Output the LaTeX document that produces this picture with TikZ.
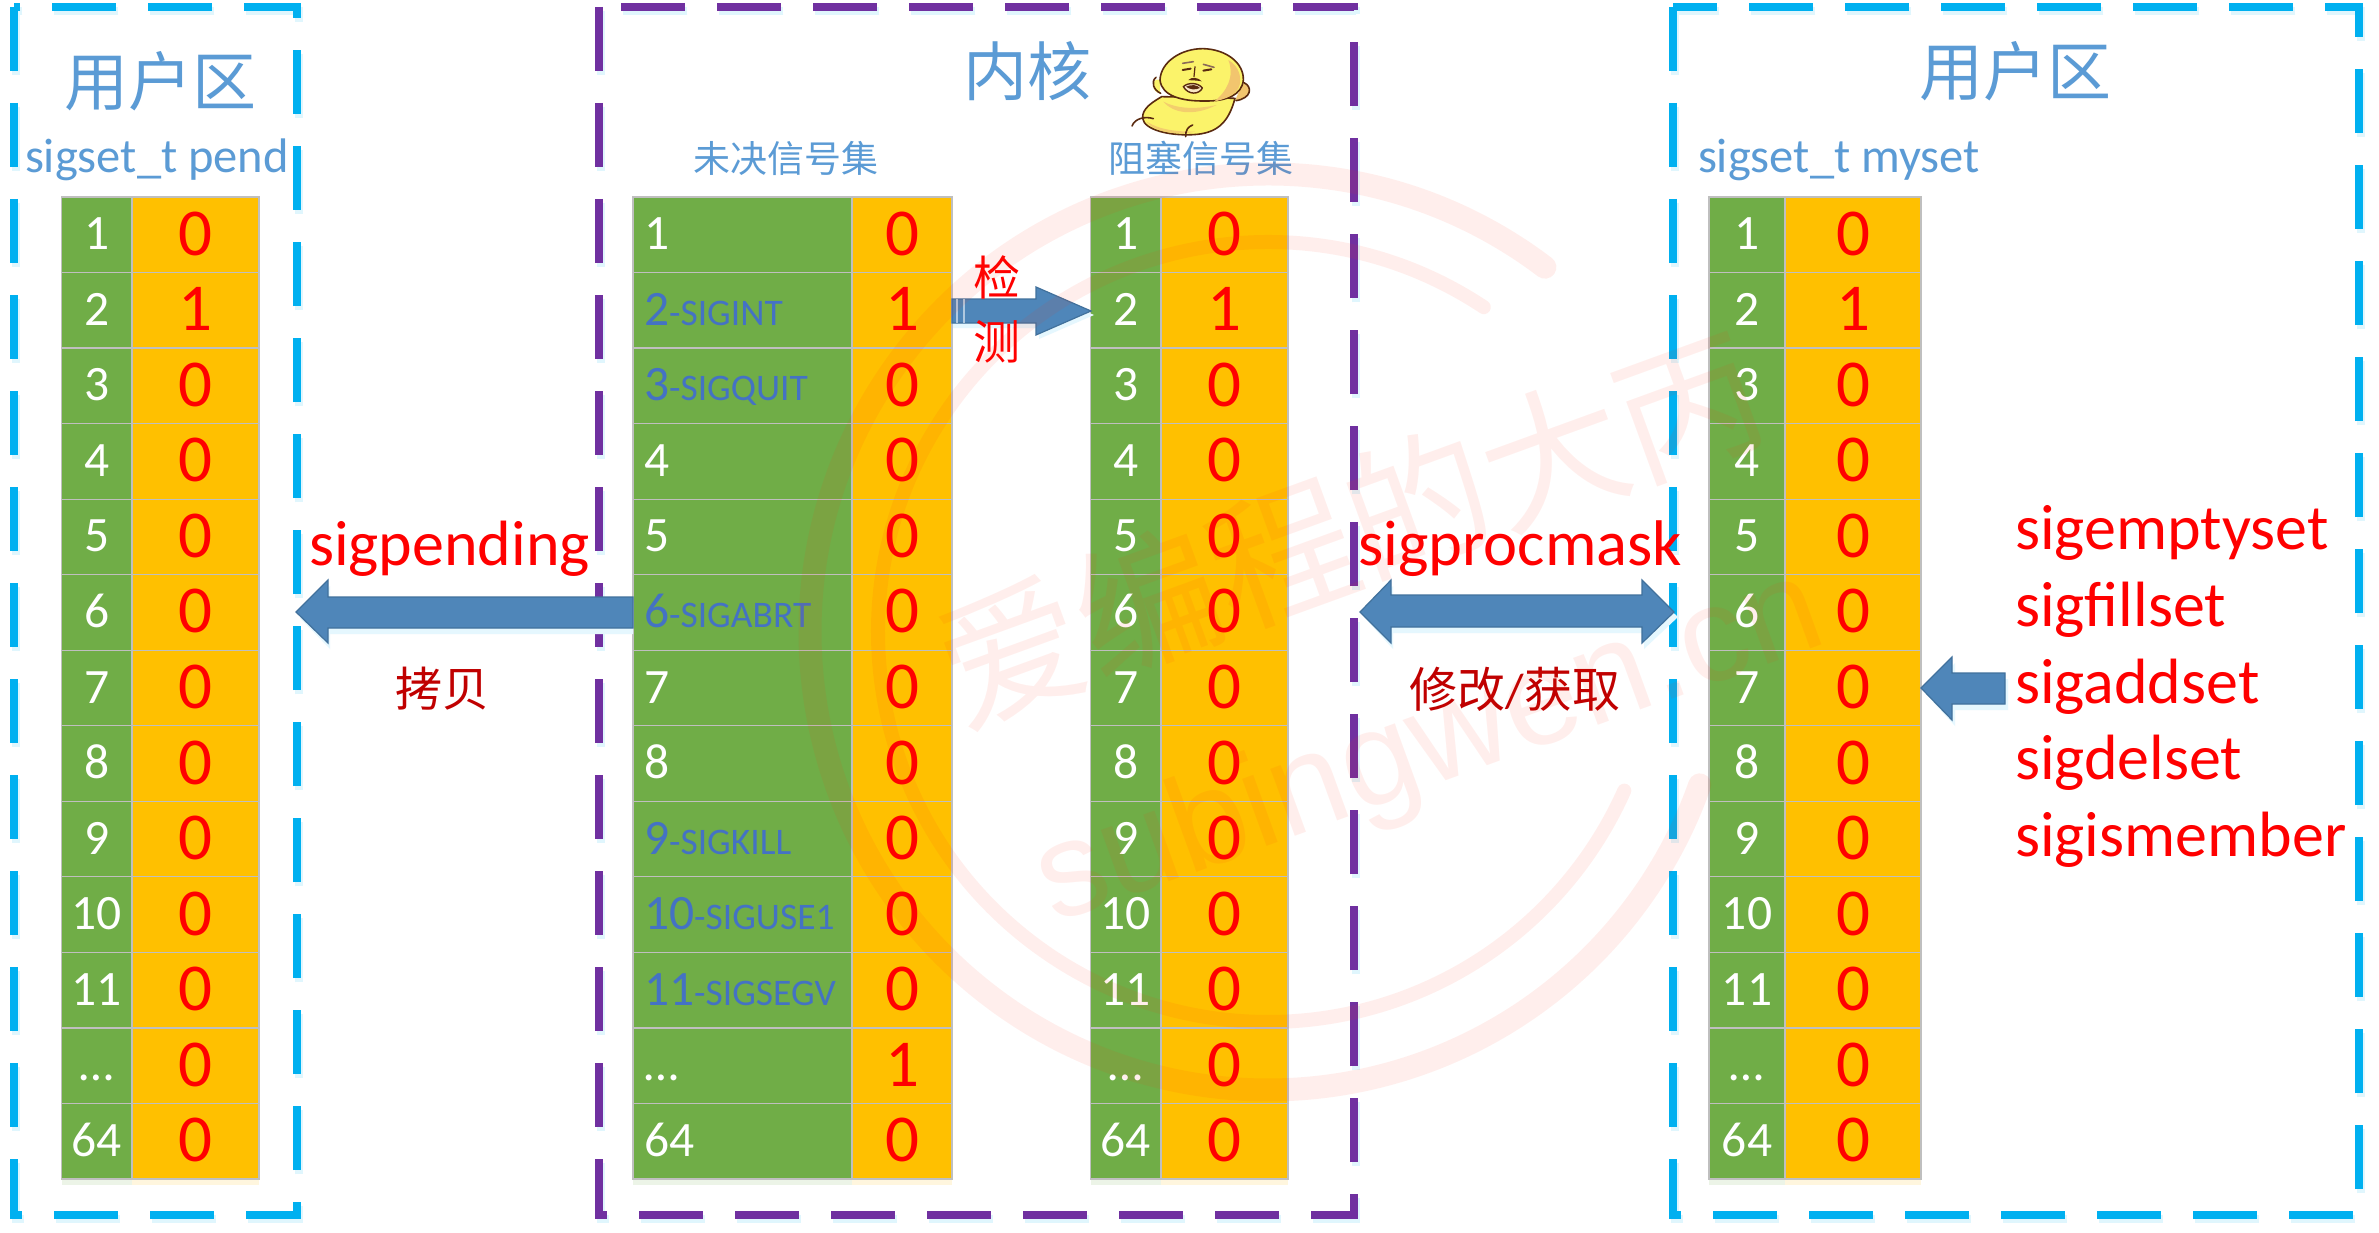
\documentclass[tikz,border=0pt]{standalone}
\usepackage{fontspec}
\setmainfont{Carlito}
\newfontfamily\cjk{Noto Sans CJK SC}
\newfontfamily\wmfont{Liberation Sans}
\usetikzlibrary{calc}
\definecolor{cellgreen}{HTML}{70AD47}
\definecolor{cellorange}{HTML}{FFC000}
\definecolor{cellline}{HTML}{BFBFBF}
\definecolor{titleblue}{HTML}{5B9BD5}
\definecolor{sigblue}{HTML}{4472C4}
\definecolor{boxblue}{HTML}{00B0F0}
\definecolor{boxpurple}{HTML}{7030A0}
\definecolor{arrowfill}{HTML}{4F86B9}
\definecolor{arrowline}{HTML}{41719C}
\definecolor{darkred}{HTML}{C00000}
\definecolor{wmred}{HTML}{FF3010}
\definecolor{faceyellow}{HTML}{FBF36A}
\definecolor{faceshade}{HTML}{F2C56E}
\definecolor{faceline}{HTML}{5A2A10}
\newcommand\fs[1]{\fontsize{#1}{#1}\selectfont}
\tikzset{
  cellbox/.style={draw=cellline,line width=1.2pt,inner sep=0pt,outer sep=0pt,minimum height=75.54pt,anchor=north west},
  txt/.style={inner sep=0pt,outer sep=0pt},
  numlabel/.style={txt,anchor=base,text=white,font=\fs{49.5}},
  vallabel/.style={txt,anchor=base,text=red,font=\fs{67}},
  dashbox/.style={line width=8pt,dash pattern=on 64pt off 32pt,line cap=butt,miter limit=10},
  dashshadow/.style={line width=8pt,dash pattern=on 64pt off 32pt,draw=boxblue!12,line cap=butt},
  blockarrow/.style={fill=arrowfill,draw=arrowline,line width=1.2pt,line join=miter},
  arrowshadow/.style={fill=boxblue!10,draw=none},
  wmring/.style={draw=wmred,opacity=.08,line cap=round},
  wmtext/.style={txt,text=wmred,text opacity=.08,rotate=20},
  facestroke/.style={draw=faceline,line width=1.5pt,line cap=round,line join=round}
}
% #1 name, #2 x0, #3 split, #4 x1
\newcommand\sigtable[4]{%
  \pgfmathsetmacro\wa{#3-#2}\pgfmathsetmacro\wb{#4-#3}\pgfmathsetmacro\cxa{(#3+#2)/2}\pgfmathsetmacro\cxb{(#3+#4)/2}%
  \fill[cellgreen!25,opacity=.5] (#2,1179) rectangle (#3,1185);
  \fill[cellorange!25,opacity=.5] (#3,1179) rectangle (#4,1185);
  \foreach \lab/\val [count=\r] in {1/0,2/1,3/0,4/0,5/0,6/0,7/0,8/0,9/0,10/0,11/0,…/0,64/0}{%
    \pgfmathsetmacro\yy{197+75.54*(\r-1)}\pgfmathsetmacro\yb{\yy+37.77+15}\pgfmathsetmacro\yc{\yy+37.77+20.5}%
    \node[cellbox,fill=cellgreen,minimum width=\wa pt] (#1n\r) at (#2,\yy) {};
    \node[cellbox,fill=cellorange,minimum width=\wb pt] (#1v\r) at (#3,\yy) {};
    \node[numlabel] (#1nt\r) at (\cxa,\yb) {\lab};
    \node[vallabel] (#1vt\r) at (\cxb,\yc) {\val};
  }%
}
\newcommand\dashrect[3]{%
  \draw[dashshadow] (#1+2,11) -- (#1+2,1219) -- (#2+2,1219) -- (#2+2,11) -- cycle;
  \draw[dashbox,draw=#3] (#1,7) -- (#1,1215) -- (#2,1215) -- (#2,7) -- cycle;
}
\begin{document}
\begin{tikzpicture}[x=1pt,y=-1pt]
\useasboundingbox[fill=white] (0,0) rectangle (2379,1233);

% dashed regions
\dashrect{14}{297}{boxblue}
\dashrect{599}{1354}{boxpurple}
\dashrect{1673}{2359}{boxblue}

% tables
\sigtable{a}{61.5}{132}{259}
\sigtable{c}{1090.5}{1161}{1288}
\sigtable{d}{1709}{1785}{1921}

% table 2 (middle left) with signal names
\fill[cellgreen!25,opacity=.5] (633,1179) rectangle (852,1185);
\fill[cellorange!25,opacity=.5] (852,1179) rectangle (952,1185);
\def\nosig{-}
\foreach \lab/\sig/\val [count=\r] in {1/-/0,2/SIGINT/1,3/SIGQUIT/0,4/-/0,5/-/0,6/SIGABRT/0,7/-/0,8/-/0,9/SIGKILL/0,10/SIGUSE1/0,11/SIGSEGV/0,…/-/1,64/-/0}{%
  \pgfmathsetmacro\yy{197+75.54*(\r-1)}\pgfmathsetmacro\yb{\yy+37.77+15}\pgfmathsetmacro\yc{\yy+37.77+20.5}%
  \node[cellbox,fill=cellgreen,minimum width=219pt] (bn\r) at (633,\yy) {};
  \node[cellbox,fill=cellorange,minimum width=100pt] (bv\r) at (852,\yy) {};
  \ifx\sig\nosig
    \node[numlabel,anchor=base west] (bnt\r) at (644,\yb) {\lab};
  \else
    \node[numlabel,anchor=base west,text=sigblue] (bnt\r) at (644,\yb) {\lab\fs{37.5}-\sig};
  \fi
  \node[vallabel] (bvt\r) at (902,\yc) {\val};
}

% titles
\node[txt,text=titleblue,font=\cjk\fs{64}] (title1) at (160,81) {用户区};
\node[txt,text=titleblue,font=\cjk\fs{64}] (title2) at (1027,71) {内核};
\node[txt,text=titleblue,font=\cjk\fs{64}] (title3) at (2015,71) {用户区};
\node[txt,text=titleblue,font=\fs{48.5},anchor=base west] (sub1) at (25,173) {sigset\_t pend};
\node[txt,text=titleblue,font=\fs{48.5},anchor=base west] (sub4) at (1698,173) {sigset\_t myset};
\node[txt,text=titleblue,font=\cjk\fs{37}] (sub2) at (786,158) {未决信号集};
\node[txt,text=titleblue,font=\cjk\fs{37}] (sub3) at (1201,158) {阻塞信号集};

% block arrows
\coordinate (pendTip) at (296,612);
\fill[arrowshadow] (300,618) -- (330,586) -- (330,603) -- (633,603) -- (633,634) -- (330,634) -- (330,649) -- cycle;
\draw[blockarrow] (pendTip) -- (328,580) -- (328,597) -- (633,597) -- (633,628) -- (328,628) -- (328,643) -- cycle;

\coordinate (maskL) at (1360,612);
\coordinate (maskR) at (1674,612);
\fill[arrowshadow] (1364,617) -- (1393,586) -- (1393,601) -- (1644,601) -- (1644,586) -- (1678,617) -- (1644,649) -- (1644,633) -- (1393,633) -- (1393,649) -- cycle;
\draw[blockarrow] (maskL) -- (1391,580) -- (1391,595) -- (1642,595) -- (1642,580) -- (maskR) -- (1642,643) -- (1642,627) -- (1391,627) -- (1391,643) -- cycle;

\coordinate (addTip) at (1921,688);
\fill[arrowshadow] (1925,693) -- (1955,663) -- (1955,679) -- (2008,679) -- (2008,710) -- (1955,710) -- (1955,726) -- cycle;
\draw[blockarrow] (addTip) -- (1952,657) -- (1952,673) -- (2005,673) -- (2005,704) -- (1952,704) -- (1952,720) -- cycle;

\coordinate (detectTip) at (1091,311);
\fill[arrowshadow] (1094,315) -- (1039,339) -- (1039,328) -- (953,328) -- (953,304) -- (1039,304) -- (1039,291) -- cycle;
\draw[blockarrow] (detectTip) -- (1036,287) -- (1036,299) -- (952,299) -- (952,323) -- (1036,323) -- (1036,335) -- cycle;
\draw[white,opacity=.55,line width=1.2pt] (957,299) -- (957,323) (964,299) -- (964,323);

% labels
\node[txt,text=red,font=\cjk\fs{47}] (jian) at (997,277) {检};
\node[txt,text=red,font=\cjk\fs{47}] (ce) at (997,342) {测};
\node[txt,text=red,font=\fs{64},anchor=base west] (sigpending) at (309,565) {sigpending};
\node[txt,text=red,font=\fs{64.5},anchor=base west] (sigprocmask) at (1358,565) {sigprocmask};
\node[txt,text=darkred,font=\cjk\fs{47}] (copy) at (442,689) {拷贝};
\node[txt,text=darkred,font=\cjk\fs{48}] (modify) at (1515,689) {修改\fontspec{Carlito}/\cjk 获取};
\node[txt,text=red,font=\fs{64},anchor=base west] (f1) at (2015,549) {sigemptyset};
\node[txt,text=red,font=\fs{64},anchor=base west] (f2) at (2015,626) {sigfillset};
\node[txt,text=red,font=\fs{64},anchor=base west] (f3) at (2015,703) {sigaddset};
\node[txt,text=red,font=\fs{64},anchor=base west] (f4) at (2015,779) {sigdelset};
\node[txt,text=red,font=\fs{64},anchor=base west] (f5) at (2015,856) {sigismember};

% sticker
\begin{scope}[shift={(1120,30)},x=.3333pt,y=-.3333pt]
  % arms
  \fill[faceyellow] (120,150) .. controls (95,140) and (90,185) .. (120,190) -- cycle;
  \draw[facestroke,line width=1.6pt] (108,142) .. controls (92,155) and (100,180) .. (122,190);
  \fill[faceshade] (368,160) .. controls (395,165) and (400,205) .. (345,212) -- cycle;
  \draw[facestroke,line width=1.6pt] (372,158) .. controls (398,170) and (395,205) .. (348,212);
  % body
  \draw[facestroke,line width=1.6pt,fill=faceyellow] (125,200) .. controls (100,215) and (65,235) .. (68,265) .. controls (72,300) and (150,318) .. (220,314) .. controls (290,310) and (325,280) .. (345,205) -- cycle;
  \fill[faceshade,opacity=.8] (80,275) .. controls (120,300) and (170,305) .. (225,305) .. controls (170,318) and (100,305) .. (80,275) -- cycle;
  \fill[faceshade,opacity=.8] (130,215) .. controls (170,235) and (220,240) .. (290,225) .. controls (220,260) and (160,250) .. (130,215) -- cycle;
  % head
  \draw[facestroke,line width=1.6pt,fill=faceyellow] (120,150) .. controls (122,95) and (185,55) .. (250,56) .. controls (320,58) and (372,100) .. (370,150) .. controls (366,195) and (320,214) .. (255,213) .. controls (190,214) and (125,200) .. (120,150) -- cycle;
  \fill[faceshade] (325,90) .. controls (360,110) and (368,150) .. (355,175) .. controls (340,200) and (310,208) .. (282,215) .. controls (320,185) and (345,140) .. (325,90) -- cycle;
  % face features
  \draw[facestroke,line width=1.6pt,draw=faceline!70] (188,100) -- (220,95) (250,103) -- (282,112);
  \draw[facestroke,line width=2pt] (188,120) -- (212,116) (250,122) -- (274,118);
  \draw[facestroke,line width=1.2pt] (225,110) -- (222,140);
  \fill[faceline] (205,150) .. controls (215,140) and (235,142) .. (245,154) .. controls (225,150) and (215,152) .. (205,150) -- cycle;
  \draw[facestroke,line width=1.4pt,fill=white!60!faceshade] (190,170) .. controls (205,156) and (235,158) .. (247,174) .. controls (238,194) and (205,196) .. (190,170) -- cycle;
  \fill[faceline] (198,170) .. controls (215,162) and (232,165) .. (240,174) .. controls (225,181) and (210,179) .. (198,170) -- cycle;
  % feet
  \draw[facestroke,line width=1.6pt] (36,288) .. controls (45,265) and (75,258) .. (100,266);
  \draw[facestroke,line width=1.6pt] (197,320) .. controls (196,300) and (205,290) .. (218,285);
\end{scope}

% watermark
\begin{scope}[shift={(1268,632)},x=1pt,y=1pt]
  \draw[wmring,line width=23pt] (52.8:458pt) arc[start angle=52.8,end angle=340.5,radius=458pt];
  \draw[wmring,line width=14pt] (56.4:390pt) arc[start angle=56.4,end angle=336,radius=390pt];
\end{scope}
\node[wmtext,font=\cjk\fs{144}] (wm1) at (1350,528) {爱编程的大丙};
\node[wmtext,font=\wmfont\fs{135}] (wm2) at (1430,750) {subingwen.cn};
\end{tikzpicture}
\end{document}
